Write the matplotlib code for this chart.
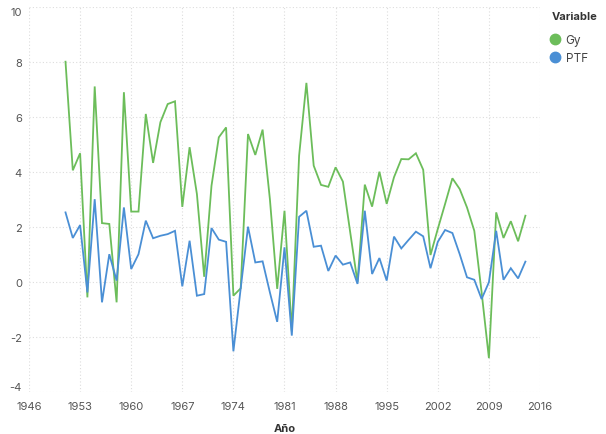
import matplotlib
matplotlib.use("Agg")
import matplotlib.pyplot as plt
from matplotlib.lines import Line2D

plt.rcParams['font.family'] = ['Inter', 'DejaVu Sans']

years = list(range(1951, 2015))
gy = [8.0, 4.05, 4.67, -0.57, 7.1, 2.13, 2.1, -0.75, 6.89, 2.55,
      2.55, 6.1, 4.32, 5.8, 6.46, 6.56, 2.72, 4.89, 3.19, 0.18,
      3.49, 5.25, 5.61, -0.51, -0.24, 5.37, 4.61, 5.53, 3.0, -0.26,
      2.58, -1.8, 4.58, 7.23, 4.22, 3.52, 3.45, 4.16, 3.64, 1.8,
      -0.02, 3.53, 2.73, 4.0, 2.83, 3.8, 4.46, 4.45, 4.67, 4.07,
      0.97, 1.92, 2.83, 3.76, 3.37, 2.7, 1.85, -0.38, -2.78, 2.52,
      1.59, 2.2, 1.47, 2.4]
ptf = [2.52, 1.59, 2.06, -0.39, 3.0, -0.75, 1.0, 0.04, 2.7, 0.46,
       1.0, 2.22, 1.58, 1.67, 1.73, 1.85, -0.17, 1.49, -0.51, -0.45,
       1.95, 1.53, 1.45, -2.53, -0.24, 2.0, 0.7, 0.74, -0.39, -1.46,
       1.25, -1.96, 2.36, 2.58, 1.27, 1.31, 0.39, 0.95, 0.62, 0.7,
       -0.08, 2.58, 0.28, 0.86, 0.04, 1.64, 1.21, 1.52, 1.82, 1.65,
       0.49, 1.45, 1.88, 1.77, 1.0, 0.16, 0.07, -0.63, -0.02, 1.85,
       0.07, 0.49, 0.12, 0.73]
series_names = ["Gy", "PTF"]
colors = ["#6cbd5a", "#4a8fd5"]
x_ticks = list(range(1946, 2017, 7))
y_ticks = list(range(-4, 11, 2))

fig = plt.figure(figsize=(6.06, 4.35), dpi=100)
ax = fig.add_axes([29/606, 1-392.7/435, (540-29)/606, (392.7-7.7)/435])

ax.plot(years, gy, color=colors[0], lw=1.3, solid_joinstyle='miter')
ax.plot(years, ptf, color=colors[1], lw=1.3, solid_joinstyle='miter')

ax.set_xlim(1946, 2016)
ax.set_ylim(-4, 10)
ax.set_xticks(x_ticks)
ax.set_yticks(y_ticks)
ax.set_xticklabels([str(t) for t in x_ticks])
ax.set_yticklabels([str(t) for t in y_ticks])
for s in ax.spines.values():
    s.set_visible(False)
ax.grid(True, color="#dddddd", linestyle=(0, (1, 2)), linewidth=0.8)
ax.set_axisbelow(True)
ax.tick_params(axis='both', length=0, labelsize=8, labelcolor="#555555")
ax.tick_params(axis='x', pad=7)
ax.tick_params(axis='y', pad=5)
ylabels = ax.get_yticklabels()
ylabels[-1].set_va('top')
ylabels[0].set_va('bottom')

ax.set_xlabel("Año", fontsize=8, fontweight='bold', color="#333333", labelpad=8)

fig.text(552/606, 1-17/435, "Variable", fontsize=8, fontweight='bold',
         color="#333333", ha='left', va='center')
handles = [Line2D([], [], marker='o', linestyle='none', color=c, markersize=7.5)
           for c in colors]
leg = fig.legend(handles, series_names, loc='upper left',
                 bbox_to_anchor=(548/606, 1-35/435), frameon=False,
                 fontsize=8.5, handletextpad=0.3, borderpad=0,
                 labelspacing=0.5, borderaxespad=0, handlelength=1.2)
for t in leg.get_texts():
    t.set_color("#444444")

fig.savefig("out.png", dpi=100)
